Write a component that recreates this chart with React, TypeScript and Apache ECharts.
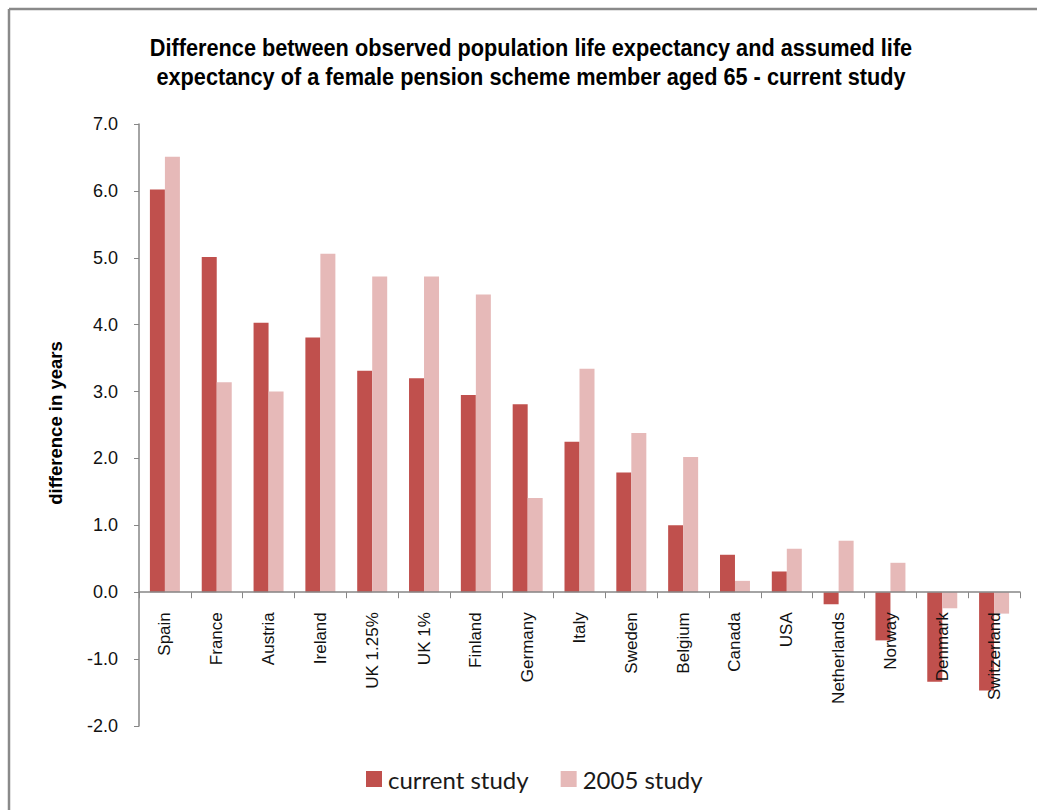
import React, { useEffect, useRef } from "react";
import * as echarts from "echarts";

const categories = [
  "Spain", "France", "Austria", "Ireland", "UK 1.25%", "UK 1%", "Finland", "Germany",
  "Italy", "Sweden", "Belgium", "Canada", "USA", "Netherlands", "Norway", "Denmark", "Switzerland",
];
const currentStudy = [6.02, 5.01, 4.03, 3.81, 3.31, 3.2, 2.95, 2.81, 2.25, 1.79, 1.0, 0.56, 0.31, -0.18, -0.72, -1.34, -1.47];
const study2005 = [6.51, 3.14, 3.0, 5.06, 4.72, 4.72, 4.45, 1.41, 3.34, 2.38, 2.02, 0.17, 0.65, 0.77, 0.44, -0.24, -0.32];
const seriesNames = ["current study", "2005 study"];
const titleText =
  "Difference between observed population life expectancy and assumed life\nexpectancy of a female pension scheme member aged 65 - current study";
const yAxisTitle = "difference in years";
const yMin = -2;
const yMax = 7;

export default function App() {
  const ref = useRef<HTMLDivElement>(null);
  useEffect(() => {
    if (!ref.current) return;
    const chart = echarts.init(ref.current, null, { renderer: "svg" });
    const axisColor = "#868686";
    const gridTop = 124;
    const gridBottom = 84;
    const gridHeight = 810 - gridTop - gridBottom;
    // move the category axis (line, ticks and labels) up to the zero line of the value scale
    const zeroOffset = -(gridHeight * (0 - yMin)) / (yMax - yMin);
    chart.setOption({
      animation: false,
      backgroundColor: "#ffffff",
      grid: { left: 139, right: 17, top: gridTop, bottom: gridBottom, containLabel: false, outerBoundsMode: "none" },
      legend: {
        data: seriesNames,
        left: 361,
        top: 762,
        itemWidth: 16,
        itemHeight: 16,
        itemGap: 32,
        icon: "rect",
        textStyle: { fontFamily: "Lato", fontSize: 24, color: "#1a1a1a", lineHeight: 24, padding: [0, 0, 0, 1] },
      },
      xAxis: {
        type: "category",
        data: categories,
        z: 10,
        offset: zeroOffset,
        axisLine: { onZero: false, lineStyle: { color: axisColor, width: 1.5 } },
        axisTick: { show: true, length: 6, lineStyle: { color: axisColor } },
        axisLabel: {
          interval: 0,
          rotate: 90,
          margin: 20,
          fontFamily: "Liberation Sans, Arial",
          fontSize: 17,
          color: "#111",
        },
      },
      yAxis: {
        type: "value",
        min: yMin,
        max: yMax,
        interval: 1,
        axisLine: { show: true, lineStyle: { color: axisColor, width: 1.5 } },
        axisTick: { show: true, length: 5, lineStyle: { color: axisColor } },
        splitLine: { show: false },
        axisLabel: {
          margin: 21,
          fontFamily: "Liberation Sans, Arial",
          fontSize: 18,
          color: "#111",
          formatter: (v: number) => v.toFixed(1),
        },
      },
      series: [
        {
          name: seriesNames[0],
          type: "bar",
          data: currentStudy,
          barWidth: 15,
          barGap: "0%",
          itemStyle: { color: "#C0504D" },
        },
        {
          name: seriesNames[1],
          type: "bar",
          data: study2005,
          barWidth: 15,
          barGap: "0%",
          itemStyle: { color: "#E6B9B8" },
        },
      ],
      graphic: [
        {
          type: "line",
          shape: { x1: 9, y1: 9, x2: 1037, y2: 9 },
          style: { stroke: "#8a8a8a", lineWidth: 2.5 },
        },
        {
          type: "line",
          shape: { x1: 9, y1: 9, x2: 9, y2: 810 },
          style: { stroke: "#8a8a8a", lineWidth: 2.5 },
        },
        {
          type: "text",
          x: 531,
          y: 33,
          scaleX: 0.905,
          style: {
            text: titleText,
            textAlign: "center",
            fontFamily: "Liberation Sans, Arial",
            fontWeight: "bold",
            fontSize: 24,
            lineHeight: 29,
            fill: "#000",
          },
        },
        {
          type: "text",
          x: 55,
          y: 423,
          rotation: Math.PI / 2,
          style: {
            text: yAxisTitle,
            textAlign: "center",
            textVerticalAlign: "middle",
            fontFamily: "Liberation Sans, Arial",
            fontWeight: "bold",
            fontSize: 18.5,
            fill: "#000",
          },
        },
      ],
    });
    return () => chart.dispose();
  }, []);
  return <div ref={ref} style={{ position: "absolute", left: 0, top: 0, width: 1037, height: 810 }} />;
}
